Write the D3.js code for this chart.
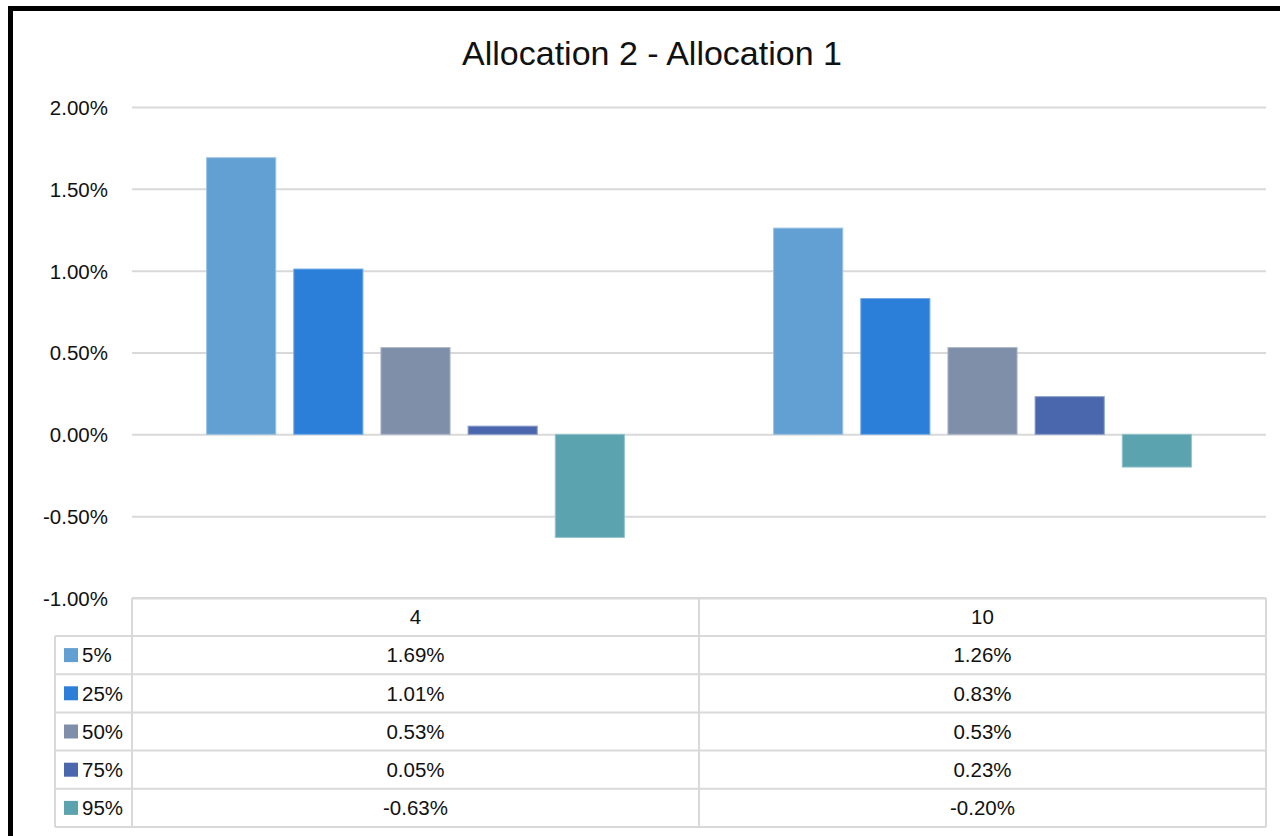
<!DOCTYPE html>
<html>
<head>
<meta charset="utf-8">
<script src="https://cdn.jsdelivr.net/npm/d3@7"></script>
<style>
  html, body { margin: 0; padding: 0; background: #fff; overflow: hidden; }
  svg { display: block; font-family: "Liberation Sans", Arial, sans-serif; }
</style>
</head>
<body>
<svg id="chart" width="1280" height="836"></svg>
<script>
// Horizon categories and percentile series
const categories = ["4", "10"];
const seriesNames = ["5%", "25%", "50%", "75%", "95%"];
// Difference (Allocation 2 - Allocation 1), in percent
const values4 = [1.69, 1.01, 0.53, 0.05, -0.63];
const values10 = [1.26, 0.83, 0.53, 0.23, -0.20];
const yTicks = [-1.0, -0.5, 0.0, 0.5, 1.0, 1.5, 2.0];
const seriesColors = ["#629FD2", "#2B7FD8", "#7F8FA9", "#4A66AC", "#5BA3AF"];

const valuesByCategory = { "4": values4, "10": values10 };

const svg = d3.select("#chart");
const W = 1280, H = 836;
const labelSize = 20.5;

// Frame
svg.append("rect").attr("x", 0).attr("y", 0).attr("width", W).attr("height", H).attr("fill", "#fff");
svg.append("rect")
  .attr("x", 10.5).attr("y", 8.5).attr("width", 1400).attr("height", 1000)
  .attr("fill", "none").attr("stroke", "#000").attr("stroke-width", 5);

// Title
svg.append("text")
  .attr("x", 652).attr("y", 65)
  .attr("text-anchor", "middle")
  .attr("font-size", 34)
  .attr("fill", "#111")
  .text("Allocation 2 - Allocation 1");

const plotLeft = 132, plotRight = 1266, plotTop = 107, plotBottom = 598;

const y = d3.scaleLinear().domain([-1, 2]).range([plotBottom, plotTop]);
const x = d3.scaleBand().domain(categories).range([plotLeft, plotRight]).padding(0);
const bw = x.bandwidth();
const xs = d3.scaleBand().domain(seriesNames)
  .range([bw * 0.1316, bw * 0.8684])
  .paddingInner(0.207).paddingOuter(0);

// Value axis with gridlines
const yAxis = d3.axisLeft(y)
  .tickValues(yTicks)
  .tickFormat(d => d.toFixed(2) + "%")
  .tickSizeInner(-(plotRight - plotLeft))
  .tickSizeOuter(0)
  .tickPadding(24);

const gy = svg.append("g").attr("transform", `translate(${plotLeft},0)`).call(yAxis);
gy.select(".domain").remove();
gy.selectAll(".tick line").attr("stroke", "#D9D9D9").attr("stroke-width", 2);
gy.selectAll(".tick text")
  .attr("font-size", labelSize)
  .attr("fill", "#111")
  .attr("dy", "0.36em")
  .attr("font-family", "'Liberation Sans', Arial, sans-serif");

// Bars
const groups = svg.append("g").selectAll("g.cat")
  .data(categories)
  .join("g")
  .attr("class", "cat")
  .attr("transform", d => `translate(${x(d)},0)`);

groups.selectAll("rect")
  .data(c => valuesByCategory[c].map((v, i) => ({ v, s: seriesNames[i], i })))
  .join("rect")
  .attr("x", d => xs(d.s))
  .attr("width", xs.bandwidth())
  .attr("y", d => y(Math.max(0, d.v)))
  .attr("height", d => Math.abs(y(d.v) - y(0)))
  .attr("fill", d => seriesColors[d.i])
  .attr("stroke", d => d3.interpolateRgb(seriesColors[d.i], "#fff")(0.35))
  .attr("stroke-width", 1);

// Data table below the plot
const tableTop = plotBottom;
const headerH = 38;
const rowH = 38.2;
const legendLeft = 55;
const gridColor = "#D9D9D9";
const table = svg.append("g");
const rowsBottom = tableTop + headerH + rowH * seriesNames.length;

// header row top line
table.append("line")
  .attr("x1", plotLeft).attr("x2", plotRight)
  .attr("y1", tableTop).attr("y2", tableTop)
  .attr("stroke", gridColor).attr("stroke-width", 2);

// horizontal row lines
d3.range(seriesNames.length + 1).forEach(i => {
  const yy = tableTop + headerH + i * rowH;
  table.append("line")
    .attr("x1", legendLeft).attr("x2", plotRight)
    .attr("y1", yy).attr("y2", yy)
    .attr("stroke", gridColor).attr("stroke-width", 2);
});

// vertical lines
[plotLeft, ...categories.map(c => x(c) + bw)].forEach(xx => {
  table.append("line")
    .attr("x1", xx).attr("x2", xx)
    .attr("y1", tableTop).attr("y2", rowsBottom)
    .attr("stroke", gridColor).attr("stroke-width", 2);
});
table.append("line")
  .attr("x1", legendLeft).attr("x2", legendLeft)
  .attr("y1", tableTop + headerH).attr("y2", rowsBottom)
  .attr("stroke", gridColor).attr("stroke-width", 2);

// category headers
table.selectAll("text.cathead")
  .data(categories)
  .join("text")
  .attr("class", "cathead")
  .attr("x", d => x(d) + bw / 2)
  .attr("y", tableTop + headerH / 2)
  .attr("dy", "0.36em")
  .attr("text-anchor", "middle")
  .attr("font-size", labelSize)
  .attr("fill", "#111")
  .text(d => d);

// legend keys and values per series row
seriesNames.forEach((s, i) => {
  const cy = tableTop + headerH + i * rowH + rowH / 2;
  table.append("rect")
    .attr("x", 64).attr("y", cy - 7)
    .attr("width", 14).attr("height", 14)
    .attr("fill", seriesColors[i]);
  table.append("text")
    .attr("x", 82).attr("y", cy)
    .attr("dy", "0.36em")
    .attr("font-size", labelSize)
    .attr("fill", "#111")
    .text(s);
  categories.forEach(c => {
    table.append("text")
      .attr("x", x(c) + bw / 2).attr("y", cy)
      .attr("dy", "0.36em")
      .attr("text-anchor", "middle")
      .attr("font-size", labelSize)
      .attr("fill", "#111")
      .text(valuesByCategory[c][i].toFixed(2) + "%");
  });
});
</script>
</body>
</html>
